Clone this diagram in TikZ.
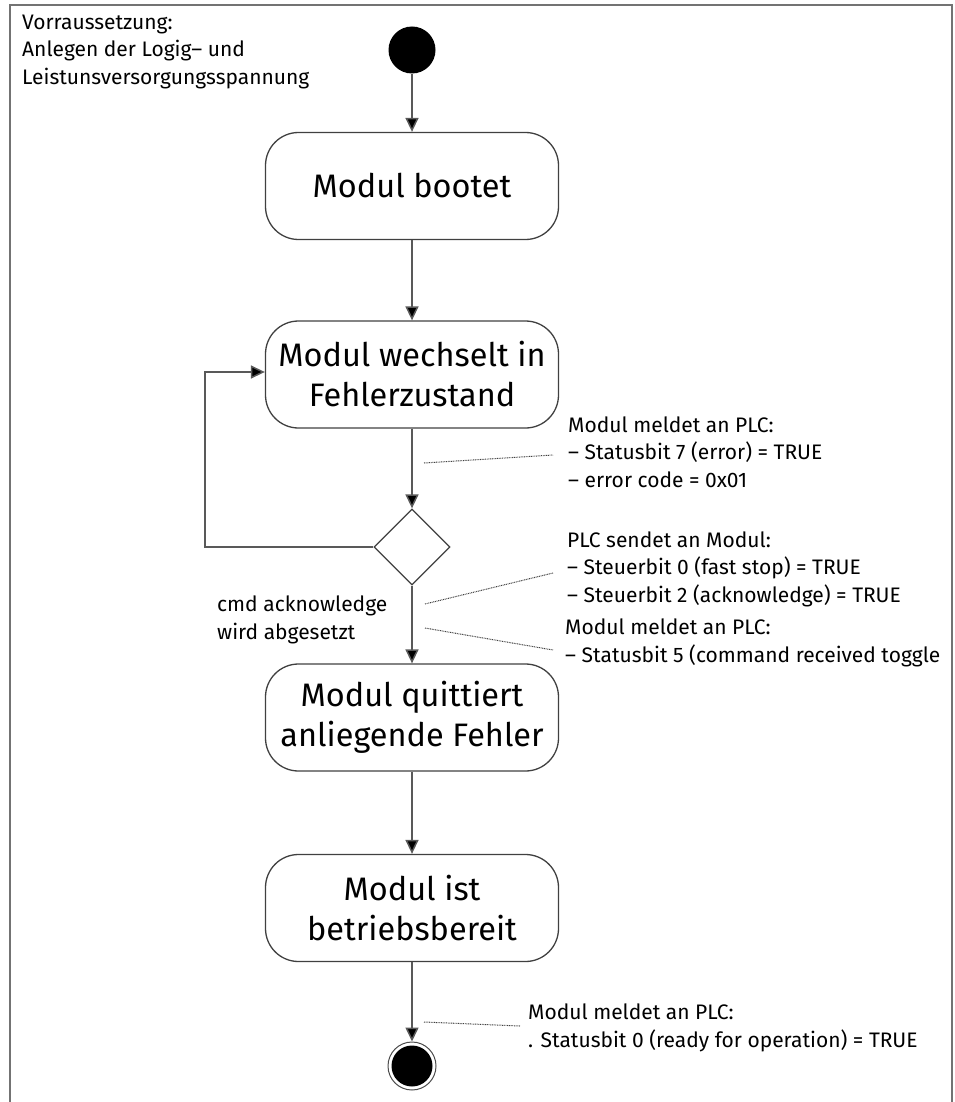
\documentclass[tikz,border=0pt]{standalone}
\usepackage{fontspec}
\setmainfont{Fira Sans}
\usetikzlibrary{arrows.meta,shapes.geometric}
\begin{document}
\begin{tikzpicture}[x=1pt,y=-1pt,
  state/.style={draw=black!75, line width=1.3pt, rounded corners=33pt, minimum width=293pt, minimum height=107pt, align=center, font=\fontsize{32.5}{40}\selectfont, inner sep=0pt},
  flow/.style={draw=black!65, line width=1.5pt, -{Triangle[length=14pt,width=13pt,fill=black]}},
  note/.style={align=left, font=\fontsize{21}{27.5}\selectfont, inner sep=0pt, anchor=west},
  lead/.style={draw=black!75, line width=1pt, dash pattern=on 0.9pt off 0.8pt},
]
\useasboundingbox (0,0) rectangle (954,1102);
\draw[black!55, line width=2pt] (10,1102) -- (10,5) -- (952,5) -- (952,1102);

\node[circle, fill=black, minimum size=47pt, inner sep=0pt] (start) at (412,50) {};
\node[state] (boot) at (412,186) {Modul bootet};
\node[state] (fault) at (412,374.5) {Modul wechselt in\\Fehlerzustand};
\node[diamond, draw=black!75, line width=1.3pt, minimum width=76pt, minimum height=76pt, inner sep=0pt] (dec) at (412,547) {};
\node[state] (ack) at (412,717.5) {Modul quittiert\\anliegende Fehler};
\node[state] (ready) at (412,908) {Modul ist\\betriebsbereit};
\node[circle, draw=black!70, line width=1pt, minimum size=48pt, inner sep=0pt] (endc) at (412,1066) {};
\node[circle, fill=black, minimum size=41pt, inner sep=0pt] (endin) at (endc.center) {};

\coordinate (loopc) at (205,372);
\draw[flow] (start) -- (boot);
\draw[flow] (boot) -- (fault);
\draw[flow] (fault) -- (dec);
\draw[flow] (dec.west) -| (loopc) -- (fault.west |- loopc);
\draw[flow] (dec) -- (ack);
\draw[flow] (ack) -- (ready);
\draw[flow] (ready) -- (endc);

\node[note] (pre) at (22,52) {Vorraussetzung:\\Anlegen der Logig– und\\Leistunsversorgungsspannung};
\node[note] (n1) at (568,452) {Modul meldet an PLC:\\– Statusbit 7 (error) = TRUE\\– error code = 0x01};
\node[note] (n2) at (567,569) {PLC sendet an Modul:\\– Steuerbit 0 (fast stop) = TRUE\\– Steuerbit 2 (acknowledge) = TRUE};
\node[note] (n3) at (565,643) {Modul meldet an PLC:\\– Statusbit 5 (command received toggle};
\node[note] (n4) at (528,1028) {Modul meldet an PLC:\\. Statusbit 0 (ready for operation) = TRUE};
\node[note] (lbl) at (217,620) {cmd acknowledge\\wird abgesetzt};

\coordinate (d1a) at (424,463); \coordinate (d1b) at (553,455);
\coordinate (d2a) at (425,604); \coordinate (d2b) at (553,573);
\coordinate (d3a) at (425,628); \coordinate (d3b) at (553,650);
\coordinate (d4a) at (424,1022); \coordinate (d4b) at (520,1026);
\draw[lead] (d1a) -- (d1b);
\draw[lead] (d2a) -- (d2b);
\draw[lead] (d3a) -- (d3b);
\draw[lead] (d4a) -- (d4b);
\end{tikzpicture}
\end{document}
